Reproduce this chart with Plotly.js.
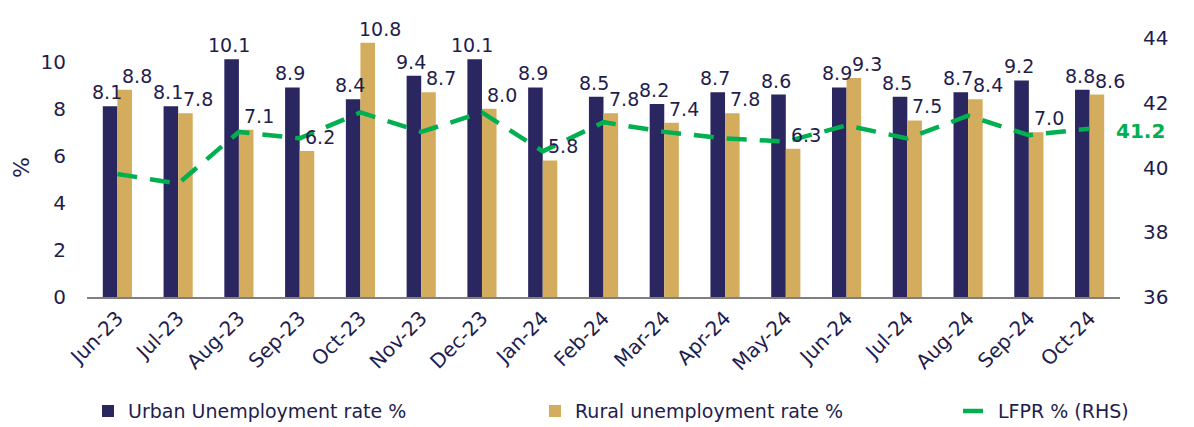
<!DOCTYPE html>
<html>
<head>
<meta charset="utf-8">
<script src="https://cdn.plot.ly/plotly-3.0.1.min.js"></script>
<style>html,body{margin:0;padding:0;background:#fff;}#chart{width:1194px;height:427px;}</style>
</head>
<body>
<div id="chart"></div>
<script>
const months = ["Jun-23","Jul-23","Aug-23","Sep-23","Oct-23","Nov-23","Dec-23","Jan-24","Feb-24","Mar-24","Apr-24","May-24","Jun-24","Jul-24","Aug-24","Sep-24","Oct-24"];
const urbanRate = [8.1,8.1,10.1,8.9,8.4,9.4,10.1,8.9,8.5,8.2,8.7,8.6,8.9,8.5,8.7,9.2,8.8];
const ruralRate = [8.8,7.8,7.1,6.2,10.8,8.7,8.0,5.8,7.8,7.4,7.8,6.3,9.3,7.5,8.4,7.0,8.6];
const lfpr = [39.8,39.5,41.1,40.9,41.7,41.1,41.7,40.5,41.4,41.1,40.9,40.8,41.3,40.9,41.6,41.0,41.2];

const navy = "#2a2660";
const gold = "#d4ac5e";
const green = "#00b050";
const textCol = "#1f1d4d";
const fontFam = "'DejaVu Sans', sans-serif";

const traces = [
  {type:"bar", name:"Urban Unemployment rate %", x:months, y:urbanRate, marker:{color:navy}, yaxis:"y", legend:"legend"},
  {type:"bar", name:"Rural unemployment rate %", x:months, y:ruralRate, marker:{color:gold}, yaxis:"y", legend:"legend2"},
  {type:"scatter", mode:"lines", name:"LFPR % (RHS)", x:months, y:lfpr, yaxis:"y2", legend:"legend3",
   line:{color:green, width:4.5, dash:"20px,13px"}}
];

const annotations = [];
months.forEach((m,i)=>{
  annotations.push({x:m, y:urbanRate[i], xref:"x", yref:"y", text:urbanRate[i].toFixed(1),
    showarrow:false, xanchor:"center", yanchor:"bottom", xshift:-10, yshift:1,
    font:{family:fontFam, size:19, color:textCol}});
  annotations.push({x:m, y:ruralRate[i], xref:"x", yref:"y", text:ruralRate[i].toFixed(1),
    showarrow:false, xanchor:"center", yanchor:"bottom", xshift:20, yshift:1,
    font:{family:fontFam, size:19, color:textCol}});
});
const last = months.length-1;
annotations.push({x:months[last], y:lfpr[last], xref:"x", yref:"y2", text:"<b>"+lfpr[last].toFixed(1)+"</b>",
  showarrow:false, xanchor:"left", yanchor:"middle", xshift:24, yshift:-2,
  font:{family:fontFam, size:20, color:green}});

const legBase = {orientation:"h", xref:"container", yref:"container", y:0.037, xanchor:"left", yanchor:"middle",
  font:{family:fontFam, size:19, color:textCol}, bgcolor:"rgba(0,0,0,0)"};

const layout = {
  width:1194, height:427,
  margin:{l:87, r:74, t:38, b:130, autoexpand:false},
  paper_bgcolor:"#fff", plot_bgcolor:"#fff",
  font:{family:fontFam, size:19, color:textCol},
  barmode:"group", bargap:0.52, bargroupgap:0,
  showlegend:true,
  legend:Object.assign({}, legBase, {x:88/1194}),
  legend2:Object.assign({}, legBase, {x:535/1194}),
  legend3:Object.assign({}, legBase, {x:958/1194}),
  xaxis:{type:"category", range:[-0.5, months.length-0.5], tickangle:-45, showgrid:false, zeroline:false, automargin:false,
    showline:true, linecolor:"#7f7f7f", linewidth:1.5, ticks:"",
    tickfont:{family:fontFam, size:20, color:textCol}},
  yaxis:{range:[0,11], tickvals:[0,2,4,6,8,10], showgrid:false, zeroline:false, automargin:false,
    showline:false, ticks:"", ticklabelstandoff:20,
    tickfont:{family:fontFam, size:20, color:textCol},
    title:{text:"%", font:{family:fontFam, size:22, color:textCol}, standoff:4}},
  yaxis2:{range:[36,44], tickvals:[36,38,40,42,44], overlaying:"y", side:"right", automargin:false,
    showgrid:false, zeroline:false, showline:false, ticks:"", ticklabelstandoff:22,
    tickfont:{family:fontFam, size:20, color:textCol}},
  annotations:annotations
};

Plotly.newPlot("chart", traces, layout, {displayModeBar:false, staticPlot:true});
</script>
</body>
</html>
